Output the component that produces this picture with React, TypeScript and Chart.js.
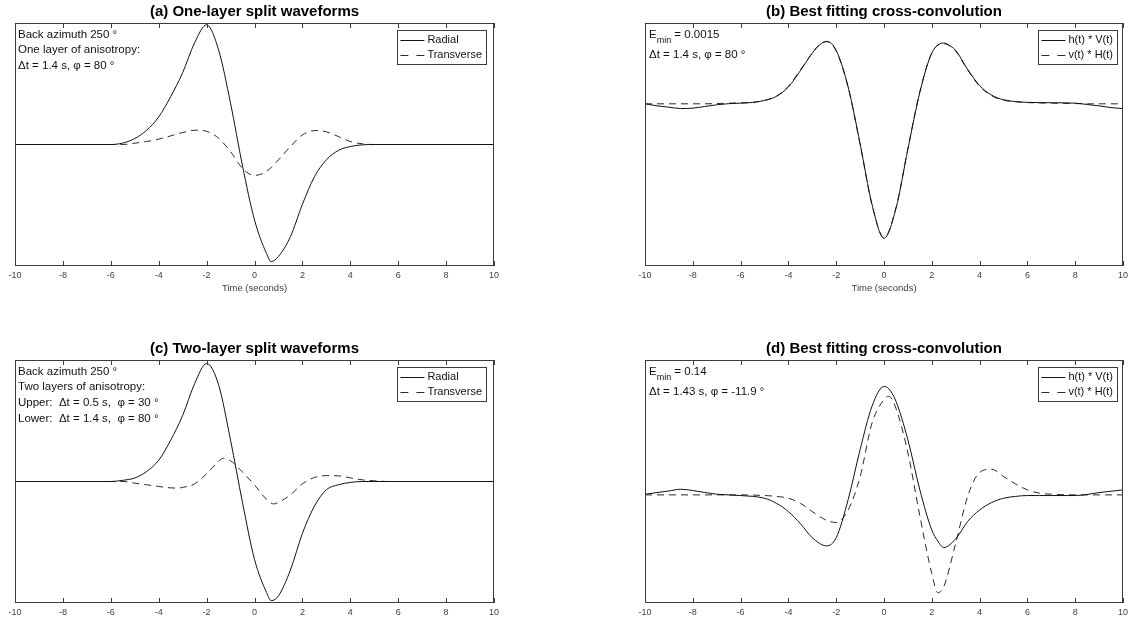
import React, { useEffect, useRef } from 'react';
import { Chart, registerables } from 'chart.js';
Chart.register(...registerables);

// ---------- data ----------
const X_TICKS = [-10, -8, -6, -4, -2, 0, 2, 4, 6, 8, 10];

// (a) One-layer split waveforms
const A_RAD_X = [-10, -8, -6, -5.5, -5, -4.5, -4, -3.5, -3, -2.5, -2, -1.5, -1, -0.5, 0, 0.5, 0.7, 1, 1.5, 2, 2.5, 3, 3.5, 4, 4.5, 5, 6, 8, 10];
const A_RAD_Y = [0, 0, 0, 0.012, 0.05, 0.12, 0.23, 0.4, 0.6, 0.85, 1.0, 0.79, 0.345, -0.18, -0.63, -0.91, -0.978, -0.935, -0.77, -0.5, -0.27, -0.128, -0.05, -0.017, -0.003, 0, 0, 0, 0];
const A_TRA_X = [-6.1, -5.5, -5, -4.5, -4, -3.5, -3, -2.4, -2, -1.5, -1, -0.5, 0, 0.5, 1, 1.5, 2, 2.6, 3, 3.5, 4, 4.5, 5, 5.5];
const A_TRA_Y = [0, 0, 0.011, 0.025, 0.045, 0.072, 0.1, 0.12, 0.11, 0.053, -0.06, -0.2, -0.258, -0.225, -0.128, -0.017, 0.08, 0.117, 0.106, 0.067, 0.025, 0.006, 0, 0];

// (b) Best fitting cross-convolution (one layer)
const B_X = [-10, -9.5, -9, -8.5, -8, -7.5, -7, -6.5, -6, -5.5, -5, -4.5, -4, -3.5, -3, -2.7, -2.4, -2, -1.5, -1, -0.5, 0, 0.5, 1, 1.5, 2, 2.5, 2.8, 3, 3.5, 4, 4.5, 5, 5.5, 6, 7, 8, 8.5, 9, 9.5, 10];
const B_HV = [-0.005, -0.02, -0.03, -0.04, -0.037, -0.025, -0.012, -0.004, 0, 0.005, 0.02, 0.05, 0.12, 0.24, 0.37, 0.43, 0.457, 0.39, 0.12, -0.3, -0.75, -1.0, -0.78, -0.34, 0.08, 0.37, 0.445, 0.42, 0.39, 0.25, 0.13, 0.06, 0.025, 0.012, 0.006, 0.003, 0, -0.01, -0.02, -0.033, -0.04];
const B_VH = [-0.005, -0.005, -0.005, -0.005, -0.005, -0.005, -0.003, 0, 0.002, 0.006, 0.02, 0.052, 0.125, 0.245, 0.372, 0.432, 0.455, 0.385, 0.115, -0.305, -0.755, -0.995, -0.775, -0.335, 0.085, 0.372, 0.44, 0.418, 0.385, 0.245, 0.125, 0.055, 0.022, 0.01, 0.004, 0, -0.003, -0.005, -0.005, -0.005, -0.005];

// (c) Two-layer split waveforms
const C_RAD_X = [-10, -8, -6, -5.5, -5, -4.5, -4, -3.5, -3, -2.5, -2, -1.5, -1, -0.5, 0, 0.5, 0.7, 1, 1.5, 2, 2.5, 3, 3.5, 4, 4.5, 5, 6, 8, 10];
const C_RAD_Y = [0, 0, 0, 0.01, 0.03, 0.085, 0.18, 0.35, 0.56, 0.83, 1.0, 0.82, 0.35, -0.18, -0.66, -0.94, -1.01, -0.97, -0.75, -0.44, -0.21, -0.07, -0.028, -0.008, 0, 0, 0, 0, 0];
const C_TRA_X = [-6.1, -5.5, -5, -4.5, -4, -3.5, -3.2, -3, -2.5, -2, -1.5, -1.3, -1, -0.5, 0, 0.5, 0.8, 1, 1.5, 2, 2.5, 3, 3.5, 4, 4.5, 5, 5.5];
const C_TRA_Y = [0, 0, -0.014, -0.028, -0.042, -0.054, -0.056, -0.05, -0.02, 0.065, 0.17, 0.197, 0.175, 0.08, -0.03, -0.15, -0.19, -0.177, -0.113, -0.02, 0.034, 0.05, 0.048, 0.031, 0.014, 0.006, 0];

// (d) Best fitting cross-convolution (two layers)
const D_X = [-10, -9, -8.5, -8, -7, -6, -5, -4.5, -4, -3.5, -3, -2.4, -2, -1.5, -1, -0.5, 0, 0.2, 0.5, 1, 1.5, 2, 2.25, 2.5, 3, 3.5, 4, 4.5, 5, 5.5, 6, 6.5, 7, 8, 9, 10];
const D_HV = [0, 0.03, 0.046, 0.034, 0, -0.012, -0.037, -0.083, -0.16, -0.27, -0.4, -0.475, -0.4, -0.05, 0.41, 0.81, 0.99, 0.97, 0.855, 0.5, 0.04, -0.33, -0.43, -0.49, -0.41, -0.25, -0.145, -0.077, -0.037, -0.02, -0.012, -0.012, -0.012, -0.012, 0.015, 0.04];
const D_VH = [-0.006, -0.006, -0.006, -0.006, -0.006, -0.006, -0.012, -0.02, -0.037, -0.083, -0.16, -0.24, -0.26, -0.145, 0.16, 0.655, 0.87, 0.9, 0.79, 0.38, -0.2, -0.73, -0.905, -0.85, -0.45, -0.02, 0.2, 0.23, 0.163, 0.095, 0.04, 0.01, 0, -0.006, -0.006, -0.006];

// ---------- styling ----------
const FONT = '"Liberation Sans", Arial, Helvetica, sans-serif';
const W = 1128;
const H = 621;

type Panel = {
  key: string;
  title: string;
  box: { l: number; t: number; r: number; b: number };
  yMin: number;
  yMax: number;
  series: { label: string; xs: number[]; ys: number[]; dashed: boolean }[];
  notes: string[];
  emin?: string;
  xTitle: boolean;
  legendRight: number;
};

const PANELS: Panel[] = [
  {
    key: 'a',
    title: '(a) One-layer split waveforms',
    box: { l: 15, t: 23, r: 494, b: 266 },
    yMin: -1.015,
    yMax: 1.015,
    series: [
      { label: 'Radial', xs: A_RAD_X, ys: A_RAD_Y, dashed: false },
      { label: 'Transverse', xs: A_TRA_X, ys: A_TRA_Y, dashed: true },
    ],
    notes: ['Back azimuth 250 °', 'One layer of anisotropy:', 'Δt = 1.4 s, φ = 80 °'],
    xTitle: true,
    legendRight: 486,
  },
  {
    key: 'b',
    title: '(b) Best fitting cross-convolution',
    box: { l: 645, t: 23, r: 1123, b: 266 },
    yMin: -1.205,
    yMax: 0.593,
    series: [
      { label: 'h(t) * V(t)', xs: B_X, ys: B_HV, dashed: false },
      { label: 'v(t) * H(t)', xs: B_X, ys: B_VH, dashed: true },
    ],
    notes: ['Δt = 1.4 s, φ = 80 °'],
    emin: ' = 0.0015',
    xTitle: true,
    legendRight: 1117,
  },
  {
    key: 'c',
    title: '(c) Two-layer split waveforms',
    box: { l: 15, t: 360, r: 494, b: 603 },
    yMin: -1.03,
    yMax: 1.03,
    series: [
      { label: 'Radial', xs: C_RAD_X, ys: C_RAD_Y, dashed: false },
      { label: 'Transverse', xs: C_TRA_X, ys: C_TRA_Y, dashed: true },
    ],
    notes: ['Back azimuth 250 °', 'Two layers of anisotropy:', 'Upper:  Δt = 0.5 s,  φ = 30 °', 'Lower:  Δt = 1.4 s,  φ = 80 °'],
    xTitle: false,
    legendRight: 486,
  },
  {
    key: 'd',
    title: '(d) Best fitting cross-convolution',
    box: { l: 645, t: 360, r: 1123, b: 603 },
    yMin: -1.0,
    yMax: 1.234,
    series: [
      { label: 'h(t) * V(t)', xs: D_X, ys: D_HV, dashed: false },
      { label: 'v(t) * H(t)', xs: D_X, ys: D_VH, dashed: true },
    ],
    notes: ['Δt = 1.43 s, φ = -11.9 °'],
    emin: ' = 0.14',
    xTitle: false,
    legendRight: 1117,
  },
];

const SOLID = '#111111';
const DASHED = '#2a2a2a';
const DASH = [7, 5];
const LEGEND_DASH = [8, 8];
const FRAME = '#3c3c3c';

function makeDecor(p: Panel) {
  return {
    id: 'decor_' + p.key,
    afterDatasetsDraw(chart: any) {
      const ctx: CanvasRenderingContext2D = chart.ctx;
      const { left, top, right, bottom } = chart.chartArea;
      const xs = chart.scales.x;
      ctx.save();
      // frame
      ctx.strokeStyle = FRAME;
      ctx.lineWidth = 1;
      ctx.setLineDash([]);
      ctx.strokeRect(left + 0.5, top + 0.5, right - left - 1, bottom - top - 1);
      // ticks (inward, top and bottom)
      ctx.beginPath();
      X_TICKS.forEach((v) => {
        const px = Math.round(xs.getPixelForValue(v)) + 0.5;
        ctx.moveTo(px, bottom);
        ctx.lineTo(px, bottom - 5);
        ctx.moveTo(px, top);
        ctx.lineTo(px, top + 5);
      });
      ctx.stroke();
      // tick labels
      ctx.fillStyle = '#404040';
      ctx.font = `9px ${FONT}`;
      ctx.textAlign = 'center';
      ctx.textBaseline = 'middle';
      X_TICKS.forEach((v) => {
        ctx.fillText(String(v), xs.getPixelForValue(v), bottom + 9.5);
      });
      if (p.xTitle) {
        ctx.font = `9.5px ${FONT}`;
        ctx.fillText('Time (seconds)', (left + right) / 2, bottom + 22);
      }
      // title
      ctx.fillStyle = '#000';
      ctx.font = `bold 15px ${FONT}`;
      ctx.fillText(p.title, (left + right) / 2, top - 11);
      // notes
      ctx.textAlign = 'left';
      ctx.textBaseline = 'alphabetic';
      ctx.fillStyle = '#111';
      if (p.emin !== undefined) {
        const x0 = left + 4;
        ctx.font = `11.5px ${FONT}`;
        ctx.fillText('E', x0, top + 15);
        const ew = ctx.measureText('E').width;
        ctx.font = `9px ${FONT}`;
        ctx.fillText('min', x0 + ew, top + 20);
        const mw = ctx.measureText('min').width;
        ctx.font = `11.5px ${FONT}`;
        ctx.fillText(p.emin, x0 + ew + mw, top + 15);
        p.notes.forEach((s, i) => ctx.fillText(s, x0, top + 35 + i * 16));
      } else {
        ctx.font = `11.5px ${FONT}`;
        p.notes.forEach((s, i) => ctx.fillText(s, left + 3, top + 14.5 + i * 15.9));
      }
      // legend
      ctx.font = `11px ${FONT}`;
      const tw = Math.max(...p.series.map((s) => ctx.measureText(s.label).width));
      const sample = 24;
      const bw = 3 + sample + 3 + tw + 4;
      const bx = p.legendRight - bw;
      const by = top + 7;
      const bh = 34;
      ctx.fillStyle = '#fff';
      ctx.fillRect(bx, by, bw, bh);
      ctx.strokeStyle = FRAME;
      ctx.strokeRect(Math.round(bx) + 0.5, by + 0.5, Math.round(bw), bh);
      p.series.forEach((s, i) => {
        const cy = by + 9.5 + i * 15;
        ctx.strokeStyle = s.dashed ? DASHED : SOLID;
        ctx.setLineDash(s.dashed ? LEGEND_DASH : []);
        ctx.beginPath();
        ctx.moveTo(bx + 3, Math.round(cy) + 0.5);
        ctx.lineTo(bx + 3 + sample, Math.round(cy) + 0.5);
        ctx.stroke();
        ctx.setLineDash([]);
        ctx.fillStyle = '#111';
        ctx.textBaseline = 'middle';
        ctx.fillText(s.label, bx + 3 + sample + 3, cy);
      });
      ctx.restore();
    },
  };
}

function PanelChart({ p }: { p: Panel }) {
  const ref = useRef<HTMLCanvasElement | null>(null);
  useEffect(() => {
    if (!ref.current) return;
    const chart = new Chart(ref.current, {
      type: 'line',
      data: {
        datasets: p.series.map((s) => ({
          label: s.label,
          data: s.xs.map((x, i) => ({ x, y: s.ys[i] })),
          borderColor: s.dashed ? DASHED : SOLID,
          borderWidth: 1,
          borderDash: s.dashed ? DASH : [],
          pointRadius: 0,
          fill: false,
          cubicInterpolationMode: 'monotone' as const,
        })),
      },
      options: {
        animation: false,
        responsive: false,
        events: [],
        layout: {
          padding: { left: p.box.l, top: p.box.t, right: W - p.box.r, bottom: H - p.box.b },
        },
        plugins: { legend: { display: false }, tooltip: { enabled: false }, title: { display: false } },
        scales: {
          x: { type: 'linear', min: -10, max: 10, display: false },
          y: { type: 'linear', min: p.yMin, max: p.yMax, display: false },
        },
      },
      plugins: [makeDecor(p)],
    });
    return () => chart.destroy();
  }, [p]);
  return (
    <canvas
      ref={ref}
      width={W}
      height={H}
      style={{ position: 'absolute', left: 0, top: 0, width: W, height: H }}
    />
  );
}

export default function App() {
  return (
    <div style={{ position: 'fixed', left: 0, top: 0, width: W, height: H, background: '#fff', overflow: 'hidden' }}>
      {PANELS.map((p) => (
        <PanelChart key={p.key} p={p} />
      ))}
    </div>
  );
}
